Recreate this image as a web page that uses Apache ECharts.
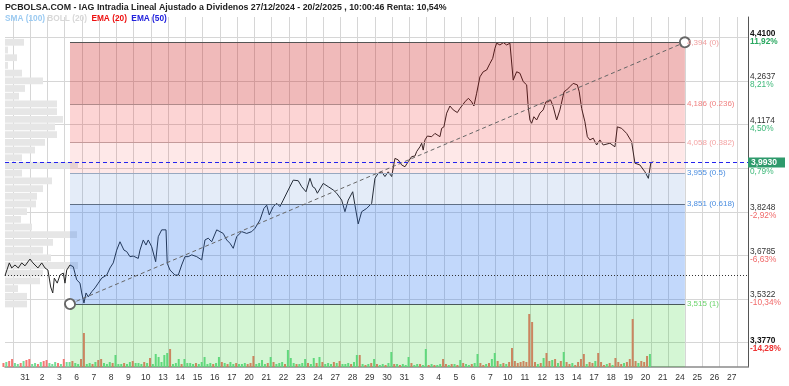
<!DOCTYPE html>
<html><head><meta charset="utf-8">
<script src="https://cdn.jsdelivr.net/npm/echarts@6/dist/echarts.min.js"></script>
<style>html,body{margin:0;padding:0;background:#fff}#c{width:789px;height:386px}</style>
</head><body><div id="c"></div>
<script>
// ---------- DATA ----------
const titleText = 'PCBOLSA.COM - IAG Intradia Lineal Ajustado a Dividenos 27/12/2024 - 20/2/2025 , 10:00:46 Renta: 10,54%';
// trading-day labels, index 0 = 31 Dec 2024
const dayLabels = ['31','2','3','6','7','8','9','10','13','14','15','16','17','20','21','22','23','24','27','28','29','30','31',
  '3','4','5','6','7','10','11','12','13','14','17','18','19','20','21','24','25','26','27'];
// intraday price [day index, price]
const priceSeries = [
[-1.16,3.610],[-0.91,3.653],[-0.77,3.636],[-0.58,3.646],[-0.39,3.636],[-0.19,3.653],[0,3.643],[0.29,3.666],[0.46,3.653],
[0.75,3.636],[0.97,3.653],[1.16,3.636],[1.33,3.629],[1.49,3.572],[1.61,3.552],[1.70,3.602],[1.87,3.585],[2.03,3.612],
[2.22,3.619],[2.32,3.585],[2.42,3.629],[2.61,3.646],[2.80,3.640],[3.00,3.596],[3.19,3.585],[3.29,3.552],[3.42,3.518],
[3.54,3.552],[3.67,3.539],[3.87,3.556],[4.06,3.569],[4.25,3.585],[4.45,3.602],[4.74,3.612],[4.93,3.636],[5.12,3.653],
[5.32,3.696],[5.51,3.724],[5.61,3.730],[5.74,3.696],[5.90,3.691],[6.09,3.674],[6.28,3.676],[6.57,3.668],[6.67,3.696],
[6.86,3.730],[7.02,3.713],[7.15,3.730],[7.35,3.707],[7.58,3.657],[7.73,3.741],[7.93,3.764],[8.18,3.764],[8.25,3.652],
[8.41,3.629],[8.70,3.612],[8.89,3.612],[9.09,3.646],[9.28,3.674],[9.47,3.674],[9.67,3.680],[9.96,3.674],[10.25,3.663],
[10.44,3.730],[10.63,3.736],[10.83,3.724],[11.12,3.764],[11.31,3.758],[11.50,3.752],[11.70,3.730],[11.89,3.719],
[12.08,3.702],[12.28,3.741],[12.57,3.758],[12.86,3.752],[13.15,3.758],[13.34,3.769],[13.63,3.797],[13.86,3.836],
[14.02,3.847],[14.17,3.814],[14.40,3.842],[14.60,3.853],[14.79,3.842],[14.98,3.864],[15.27,3.898],[15.56,3.931],
[15.85,3.929],[16.05,3.909],[16.30,3.892],[16.53,3.937],[16.69,3.909],[16.82,3.904],[16.96,3.887],[17.30,3.920],
[17.59,3.909],[17.88,3.898],[18.08,3.887],[18.37,3.864],[18.56,3.825],[18.75,3.864],[19.01,3.892],[19.14,3.847],
[19.33,3.784],[19.53,3.825],[19.82,3.836],[20.11,3.853],[20.20,3.853],[20.30,3.937],[20.49,3.954],[20.69,3.959],
[20.88,3.943],[21.07,3.959],[21.27,3.943],[21.46,4.004],[21.65,3.999],[21.85,3.982],[22.04,3.976],[22.23,3.993],
[22.43,4.010],[22.62,4.012],[22.72,4.027],[22.91,4.043],[23.01,4.055],[23.10,4.032],[23.20,4.066],[23.34,4.079],
[23.59,4.077],[23.78,4.088],[24.07,4.077],[24.17,4.105],[24.30,4.110],[24.46,4.156],[24.65,4.180],[24.84,4.167],
[25.08,4.158],[25.23,4.172],[25.52,4.194],[25.72,4.206],[25.91,4.194],[26.04,4.180],[26.20,4.223],[26.39,4.278],
[26.58,4.295],[26.78,4.301],[26.97,4.323],[27.13,4.340],[27.26,4.374],[27.36,4.391],[27.55,4.385],[27.75,4.393],
[27.94,4.385],[28.13,4.391],[28.23,4.388],[28.32,4.267],[28.52,4.295],[28.71,4.290],[28.90,4.262],[29.10,4.251],
[29.19,4.178],[29.29,4.133],[29.39,4.122],[29.52,4.144],[29.68,4.133],[29.87,4.156],[30.06,4.167],[30.22,4.194],
[30.35,4.194],[30.49,4.200],[30.64,4.178],[30.84,4.133],[31.03,4.167],[31.27,4.228],[31.42,4.234],[31.61,4.245],
[31.80,4.256],[32.04,4.251],[32.15,4.228],[32.29,4.172],[32.48,4.127],[32.62,4.077],[32.77,4.066],[32.96,4.072],
[33.16,4.049],[33.35,4.066],[33.54,4.049],[33.93,4.055],[34.22,4.043],[34.36,4.110],[34.61,4.105],[34.90,4.088],
[35.19,4.060],[35.38,3.988],[35.67,3.982],[35.96,3.959],[36.16,3.937],[36.30,3.988],[36.45,3.993]
];
// volume per trading day (first = 30 Dec), 6 bars per day; positive = up bar, negative = down bar
const volumeByDay = [
[-3,-4,5,-6,-8,4],[3,-4,6,-7,-8,3],[4,-3,5,-6,-7,4],[3,5,-4,3,-8,5],[5,-6,4,3,-8,-34],
[3,4,-3,5,-7,-8],[4,3,5,-4,12,3],[3,-4,3,5,-6,4],[4,3,-5,4,-9,3],[13,10,5,12,14,-18],
[3,4,8,-3,8,4],[4,3,-4,3,5,10],[3,4,-3,4,10,-5],[4,-3,5,3,-4,3],[3,4,-3,-4,-11,3],
[4,7,3,-4,10,-5],[3,4,5,-3,17,9],[4,-3,3,4,8,-4],[3,9,-4,10,-5,3],[4,3,-5,4,-6,3],
[3,4,-3,5,12,-12],[3,-2,3,-4,8,-3],[2,3,-2,4,15,-3],[3,-2,3,2,10,-4],[2,3,-3,2,18,-2],
[3,-2,2,3,-8,-3],[2,-3,3,-2,7,-4],[3,2,-3,4,13,-4],[-2,3,-4,8,14,-6],[3,-4,3,-5,-19,-6],
[-4,-5,-6,-5,-53,-45],[-5,3,-4,9,-14,-6],[7,-8,4,-6,15,-5],[-3,4,-2,-5,-8,-13],[3,-5,-4,6,-14,-5],
[-2,3,-4,2,-9,-5],[-3,4,-5,-8,-48,-6],[4,-6,-5,-11,13,0]
];
const FIRST_VOL_DAY = -1;
// volume-by-price profile, top bin (4.394) to bottom bin (3.515)
const profileVolumes = [19,3,12,3,17,38,20,14,52,52,58,50,52,40,30,17,73,17,47,38,32,31,22,16,27,72,48,38,46,73,38,35,13,22,22];
const PROFILE_TOP = 4.394, PROFILE_BOTTOM = 3.515;
// Fibonacci retracement
const fibLevels = [4.394, 4.186, 4.058, 3.955, 3.851, 3.515];
const fibRatios = ['0','0.236','0.382','0.5','0.618','1'];
const fibStart = [2.61, 3.515], fibEnd = [38.28, 4.394];
// right axis
const yLabelValues = [4.41, 4.2637, 4.1174, 3.8248, 3.6785, 3.5322, 3.377];
const yLabelPct = ['11,92%','8,21%','4,50%','-2,92%','-6,63%','-10,34%','-14,28%'];
const Y_GRID_BASE = 3.3859, Y_GRID_STEP = 0.1463, Y_GRID_COUNT = 7;   // price grid lines 3.3859 ... 4.41
const lastPrice = 3.993, lastPct = '0,79%';
const refPrice = 3.610;
const Y_MIN = 3.3033, Y_MAX = 4.479, X_MIN = -1.16, X_MAX = 41.94;
const X_SEP_FIRST = -0.7, X_SEP_LAST = 41.3;   // day separator grid lines

// ---------- BUILD ----------
const FONT = 'Liberation Sans, Arial, sans-serif';
const comma = (v, d) => v.toFixed(d).replace('.', ',');
const volData = [];
volumeByDay.forEach((arr, di) => {
  const d = di + FIRST_VOL_DAY;
  arr.forEach((v, k) => {
    if (v === 0) return;
    volData.push({ value: [d - 0.5 + (k + 0.5) / arr.length, Math.abs(v)],
      itemStyle: { color: v > 0 ? '#74dc96' : '#f47874' } });
  });
});
const profStep = (PROFILE_TOP - PROFILE_BOTTOM) / (profileVolumes.length - 1);
const profData = profileVolumes.map((v, k) => [v, PROFILE_TOP - k * profStep]);

const zoneColors = ['rgba(200,0,0,0.27)','rgba(240,0,0,0.17)','rgba(240,0,0,0.09)','rgba(30,100,200,0.12)','rgba(30,110,240,0.27)','rgba(0,200,0,0.17)'];
const zoneBounds = fibLevels.concat([Y_MIN]);
const areas = zoneColors.map((c, z) => [
  { xAxis: fibStart[0], yAxis: zoneBounds[z], itemStyle: { color: c } },
  { xAxis: fibEnd[0], yAxis: zoneBounds[z + 1] }
]);
const lineCols = ['#555555','#b08a8a','#c49a9a','#98a8c0','#5f6f85','#4a5a5a'];
const labCols = ['#f0a0a0','#f08080','#f4a4a4','#4a8de0','#4a8de0','#6ad36a'];
const fibLines = fibLevels.map((lv, z) => [
  { coord: [fibStart[0], lv], lineStyle: { color: lineCols[z], width: 1, type: 'solid' },
    label: { show: true, position: 'end', distance: 2, color: labCols[z], fontSize: 8,
      fontFamily: FONT, padding: [0, 0, 9, 0],
      formatter: comma(lv, 3) + ' (' + fibRatios[z] + ')' } },
  { coord: [fibEnd[0], lv] }
]);

// layout of main plot
const G = { left: 5, right: 41, top: 17, bottom: 19, width: 789, height: 386 };
const plotW = G.width - G.left - G.right, plotH = G.height - G.top - G.bottom;
const px = i => G.left + (i - X_MIN) / (X_MAX - X_MIN) * plotW;
const py = v => G.top + (Y_MAX - v) / (Y_MAX - Y_MIN) * plotH;
const hidden = { axisLine: { show: false }, axisTick: { show: false }, axisLabel: { show: false } };
const gridLineStyle = { show: true, lineStyle: { color: '#d6d6d6', width: 1, opacity: 1 } };

const chart = echarts.init(document.getElementById('c'), null, { renderer: 'canvas' });
chart.setOption({
  animation: false,
  backgroundColor: '#fff',
  textStyle: { fontFamily: FONT },
  title: [
    { text: titleText, left: 5, top: 3, padding: 0,
      textStyle: { fontSize: 8.8, fontWeight: 'bold', color: '#222', fontFamily: FONT } },
    { text: '{a|SMA (100)} {b|BOLL (20)}  {c|EMA (20)}  {d|EMA (50)}', left: 5, top: 15, padding: 0,
      textStyle: { fontSize: 8, fontFamily: FONT, rich: {
        a: { color: '#9ccbf2', fontWeight: 'bold', fontSize: 8.3, fontFamily: FONT },
        b: { color: '#d8d8d8', fontWeight: 'bold', fontSize: 8.3, fontFamily: FONT },
        c: { color: '#ee1111', fontWeight: 'bold', fontSize: 8.3, fontFamily: FONT },
        d: { color: '#2222dd', fontWeight: 'bold', fontSize: 8.3, fontFamily: FONT } } } }
  ],
  grid: [
    { left: G.left, right: G.right, top: G.top, bottom: G.bottom, containLabel: false },
    // day separator lines
    { left: px(X_SEP_FIRST), right: G.width - px(X_SEP_LAST), top: G.top, bottom: G.bottom, containLabel: false },
    // price grid lines
    { left: G.left, right: G.right, top: py(Y_GRID_BASE + Y_GRID_COUNT * Y_GRID_STEP),
      bottom: G.height - py(Y_GRID_BASE), containLabel: false }
  ],
  xAxis: [
    { type: 'value', min: X_MIN, max: X_MAX, gridIndex: 0,
      axisLine: { show: true, onZero: false, lineStyle: { color: '#8a8a8a', width: 1.5 } },
      axisTick: { show: false },
      axisLabel: { customValues: dayLabels.map((_, i) => i), formatter: v => dayLabels[Math.round(v)],
        color: '#333', fontSize: 8.5, margin: 6, fontFamily: FONT },
      splitLine: { show: false } },
    { type: 'value', min: 0, max: 743, show: false, gridIndex: 0 },
    Object.assign({ type: 'value', gridIndex: 1, min: 0, max: X_SEP_LAST - X_SEP_FIRST, interval: 1, position: 'top',
      splitLine: gridLineStyle }, hidden),
    { type: 'value', gridIndex: 2, min: 0, max: 1, show: false }
  ],
  yAxis: [
    { type: 'value', position: 'right', min: Y_MIN, max: Y_MAX, gridIndex: 0,
      axisLine: { show: true, onZero: false, lineStyle: { color: '#555', width: 1 } },
      axisTick: { show: false },
      axisLabel: { customValues: yLabelValues, margin: 2, fontSize: 8.3, lineHeight: 8, fontFamily: FONT,
        formatter: v => {
          const idx = yLabelValues.findIndex(t => Math.abs(t - v) < 1e-6);
          const p = yLabelPct[idx] || '';
          const edge = idx === 0 || idx === yLabelValues.length - 1;
          const neg = p.charAt(0) === '-';
          return '{' + (edge ? 'vb' : 'v') + '|' + comma(v, 4) + '}\n{' + (neg ? 'pd' : 'pu') + (edge ? 'b' : '') + '|' + p + '}';
        },
        rich: {
          v: { color: '#333', fontSize: 8.3, lineHeight: 8, fontFamily: FONT },
          vb: { color: '#111', fontSize: 8.3, fontWeight: 'bold', lineHeight: 8, fontFamily: FONT },
          pu: { color: '#3cb878', fontSize: 8.3, lineHeight: 8, fontFamily: FONT },
          pub: { color: '#2aa860', fontSize: 8.3, fontWeight: 'bold', lineHeight: 8, fontFamily: FONT },
          pd: { color: '#f06868', fontSize: 8.3, lineHeight: 8, fontFamily: FONT },
          pdb: { color: '#ee3333', fontSize: 8.3, fontWeight: 'bold', lineHeight: 8, fontFamily: FONT }
        } },
      splitLine: { show: false } },
    { type: 'value', min: 0, max: 350, show: false, gridIndex: 0 },
    { type: 'value', gridIndex: 1, min: 0, max: 1, show: false },
    Object.assign({ type: 'value', gridIndex: 2, min: 0, max: Y_GRID_COUNT, interval: 1, position: 'left',
      splitLine: gridLineStyle }, hidden)
  ],
  series: [
    { name: 'profile', type: 'custom', xAxisIndex: 1, yAxisIndex: 0, z: 2, silent: true,
      data: profData,
      renderItem: (params, api) => {
        const vol = api.value(0), p = api.value(1);
        const a = api.coord([0, p + profStep * 0.44]);
        const b = api.coord([vol, p - profStep * 0.44]);
        return { type: 'rect', shape: { x: a[0], y: a[1], width: b[0] - a[0], height: b[1] - a[1] },
          style: { fill: '#e6e6e6' } };
      } },
    { name: 'volume', type: 'bar', xAxisIndex: 0, yAxisIndex: 1, z: 3, barWidth: 2, clip: true,
      data: volData, silent: true },
    { name: 'price', type: 'line', xAxisIndex: 0, yAxisIndex: 0, z: 4, data: priceSeries,
      showSymbol: false, symbol: 'none', lineStyle: { color: '#262626', width: 1 }, silent: true },
    { name: 'fib', type: 'line', xAxisIndex: 0, yAxisIndex: 0, z: 6, data: [], silent: true,
      markArea: { z: 5, silent: true, data: areas },
      markLine: { z: 7, silent: true, symbol: ['none', 'none'], animation: false,
        data: fibLines.concat([
          [ { coord: fibStart, symbol: 'emptyCircle', symbolSize: 10,
              lineStyle: { color: '#666', type: [4, 3], width: 1 }, label: { show: false } },
            { coord: fibEnd, symbol: 'emptyCircle', symbolSize: 10 } ],
          { yAxis: refPrice, lineStyle: { color: '#333', type: [1, 2], width: 1 }, label: { show: false } },
          { yAxis: lastPrice, lineStyle: { color: '#2424ee', type: [4, 3], width: 1 },
            label: { show: true, position: 'end', distance: 0, padding: [9, 0, 0, 0],
              formatter: '{box|' + comma(lastPrice, 4) + '}\n{pct|' + lastPct + '}',
              rich: {
                box: { backgroundColor: '#2e9a6c', color: '#fff', fontSize: 8.5, fontWeight: 'bold', fontFamily: FONT,
                  padding: [1, 3, 0, 3], lineHeight: 9, width: 31 },
                pct: { color: '#3cb878', fontSize: 8.3, lineHeight: 9, fontFamily: FONT, padding: [0, 0, 0, 2] }
              } } }
        ]) } }
  ]
});
</script></body></html>
